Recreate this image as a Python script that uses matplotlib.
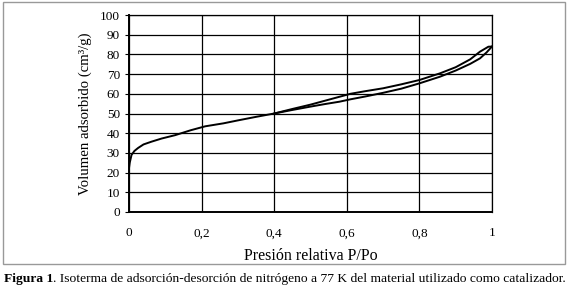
import matplotlib.pyplot as plt
from matplotlib.patches import Rectangle

plt.rcParams['font.family'] = ['Liberation Serif', 'DejaVu Serif']

# adsorption branch (lower at high P/Po)
p_ads = [0, 0.002, 0.007, 0.015, 0.025, 0.04, 0.062, 0.09, 0.127, 0.17, 0.21,
         0.26, 0.3, 0.35, 0.4, 0.45, 0.5, 0.54, 0.58, 0.61, 0.65, 0.7, 0.75,
         0.8, 0.857, 0.9, 0.94, 0.967, 0.985, 1.0]
v_ads = [22.3, 25, 29, 31, 32.5, 34.3, 35.7, 37.3, 39, 41.5, 43.5,
         45, 46.5, 48.3, 50, 51.8, 53.5, 54.8, 56, 57.2, 58.6, 60.5, 62.6,
         65.3, 68.7, 71.8, 75.2, 78, 81, 84]

# desorption branch
p_des = [0.4, 0.45, 0.5, 0.54, 0.58, 0.61, 0.65, 0.7, 0.75, 0.8, 0.857,
         0.9, 0.94, 0.967, 0.99, 1.0]
v_des = [50, 52.3, 54.5, 56.5, 58.5, 60, 61.3, 62.8, 64.8, 67, 70.4,
         73.5, 77.5, 81.4, 83.9, 84]

x_ticks = [0, 0.2, 0.4, 0.6, 0.8, 1.0]
x_labels = ['0', '0,2', '0,4', '0,6', '0,8', '1']
y_ticks = list(range(0, 101, 10))

fig = plt.figure(figsize=(5.68, 2.87), dpi=100)
ax = fig.add_axes([129/568, 1 - 212/287, 363/568, 197/287])

ax.plot(p_ads, v_ads, color='black', lw=1.4)
ax.plot(p_des, v_des, color='black', lw=1.4)

ax.set_xlim(0, 1)
ax.set_ylim(0, 100)
ax.set_xticks(x_ticks)
ax.set_xticklabels(x_labels)
ax.set_yticks(y_ticks)
ax.grid(True, color='black', lw=0.9)
ax.set_axisbelow(True)
for s in ax.spines.values():
    s.set_color('black')
    s.set_linewidth(0.9)
ax.spines['left'].set_linewidth(1.4)
ax.spines['bottom'].set_linewidth(1.4)
ax.tick_params(axis='both', labelsize=9.5, length=3, width=0.8, direction='out')
ax.tick_params(axis='x', length=0, pad=11)

ax.set_xlabel('Presión relativa P/Po', fontsize=11.5, labelpad=6)
ax.set_ylabel('Volumen adsorbido (cm³/g)', fontsize=10.6, labelpad=6)

# gray frame around the chart
fig.patches.append(Rectangle((3/568, 1 - 264/287), 562/568, 262/287,
                             transform=fig.transFigure, fill=False,
                             edgecolor='#999999', lw=1))

# caption: bold "Figura 1" followed by normal text
t1 = fig.text(4/568, 1 - 279/287, 'Figura 1', fontsize=9.7, fontweight='bold',
              va='center', ha='left')
fig.canvas.draw()
bb = t1.get_window_extent()
fig.text(bb.x1 / fig.bbox.width, 1 - 279/287,
         '. Isoterma de adsorción-desorción de nitrógeno a 77 K del material utilizado como catalizador.',
         fontsize=9.7, va='center', ha='left')

fig.savefig('out.png', dpi=100)
